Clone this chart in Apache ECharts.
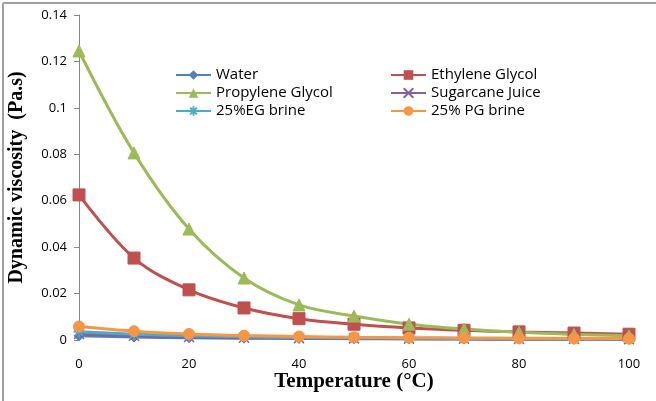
<!DOCTYPE html>
<html>
<head>
<meta charset="utf-8">
<script src="https://cdn.jsdelivr.net/npm/echarts@6/dist/echarts.min.js"></script>
<style>
  html, body { margin: 0; padding: 0; background: #fff; }
  #chart { width: 656px; height: 401px; }
</style>
</head>
<body>
<div id="chart"></div>
<script>
// Temperature (°C)
const temperatures = [0, 10, 20, 30, 40, 50, 60, 70, 80, 90, 100];

// Dynamic viscosity (Pa.s)
const water          = [0.0018, 0.0013, 0.0010, 0.0008, 0.00065, 0.00055, 0.00047, 0.0004, 0.00035, 0.00031, 0.00028];
const ethyleneGlycol = [0.0625, 0.0353, 0.0216, 0.0138, 0.0092, 0.0068, 0.0052, 0.0042, 0.0035, 0.0030, 0.0025];
const propyleneGlycol= [0.1245, 0.0806, 0.0478, 0.0267, 0.0151, 0.0103, 0.0068, 0.0047, 0.0033, 0.0024, 0.0018];
const sugarcaneJuice = [0.0026, 0.0018, 0.0013, 0.0010, 0.0008, 0.0007, 0.0006, 0.0005, 0.00045, 0.0004, 0.00035];
const egBrine25      = [0.0036, 0.0025, 0.0018, 0.0014, 0.0011, 0.0009, 0.0008, 0.0007, 0.0006, 0.00055, 0.0005];
const pgBrine25      = [0.0058, 0.0038, 0.0026, 0.0019, 0.0015, 0.0012, 0.0010, 0.0009, 0.0008, 0.0007, 0.0006];

const starPath = 'path://M0,-10L0,10M-10,0L10,0M-7,-7L7,7M-7,7L7,-7';
const crossPath = 'path://M-7,-7L7,7M-7,7L7,-7';

function pairs(arr) { return temperatures.map((t, i) => [t, arr[i]]); }

function line(name, data, color, symbol, size, extra) {
  return Object.assign({
    name: name,
    type: 'line',
    smooth: 0.35,
    data: pairs(data),
    symbol: symbol,
    symbolSize: size,
    showSymbol: true,
    lineStyle: { color: color, width: 3 },
    itemStyle: { color: color, borderColor: color },
    emphasis: { disabled: true }
  }, extra || {});
}

const series = [
  line('Water', water, '#4F81BD', 'diamond', 10),
  line('Ethylene Glycol', ethyleneGlycol, '#C0504D', 'rect', 12),
  line('Propylene Glycol', propyleneGlycol, '#9BBB59', 'triangle', 12),
  line('Sugarcane Juice', sugarcaneJuice, '#8064A2', crossPath, 10,
       { itemStyle: { color: 'none', borderColor: '#8064A2', borderWidth: 1.5 } }),
  line('25%EG brine', egBrine25, '#4BACC6', starPath, 11,
       { itemStyle: { color: 'none', borderColor: '#4BACC6', borderWidth: 1.5 } }),
  line('25% PG brine', pgBrine25, '#F79646', 'circle', 11)
];

const sansFont = 'Open Sans, Liberation Sans, sans-serif';
const serifFont = 'Liberation Serif, Times New Roman, serif';
const legendFont = { fontFamily: sansFont, fontSize: 15, color: '#000', lineHeight: 16 };

const chart = echarts.init(document.getElementById('chart'), null, { renderer: 'canvas' });
chart.setOption({
  animation: false,
  backgroundColor: '#fff',
  grid: { left: 79, right: 27, top: 15, bottom: 61, outerBoundsMode: 'none', containLabel: false },
  xAxis: {
    type: 'value',
    min: 0, max: 100, interval: 20,
    axisLine: { show: false },
    axisTick: { show: false },
    splitLine: { show: false },
    axisLabel: { color: '#000', fontSize: 13, margin: 18, fontFamily: sansFont },
    name: 'Temperature (\u00B0C)',
    nameLocation: 'middle',
    nameGap: 31,
    nameMoveOverlap: false,
    nameTextStyle: { fontFamily: serifFont, fontWeight: 'bold', fontSize: 21, color: '#000' }
  },
  yAxis: {
    type: 'value',
    min: 0, max: 0.14, interval: 0.02,
    axisLine: { show: true, lineStyle: { color: '#868686', width: 1 } },
    axisTick: { show: true, inside: false, length: 5, lineStyle: { color: '#868686' } },
    splitLine: { show: false },
    axisLabel: {
      color: '#000', fontSize: 13, margin: 12,
      fontFamily: sansFont,
      formatter: v => String(+v.toFixed(2))
    },
    name: 'Dynamic viscosity  (Pa.s)',
    nameLocation: 'middle',
    nameGap: 52,
    nameMoveOverlap: false,
    nameTextStyle: { fontFamily: serifFont, fontWeight: 'bold', fontSize: 20, color: '#000' }
  },
  legend: [
    {
      data: ['Water', 'Propylene Glycol', '25%EG brine'],
      orient: 'vertical', left: 170, top: 62, itemGap: 2,
      itemWidth: 35, itemHeight: 12, textStyle: legendFont, selectedMode: false
    },
    {
      data: ['Ethylene Glycol', 'Sugarcane Juice', '25% PG brine'],
      orient: 'vertical', left: 385, top: 62, itemGap: 2,
      itemWidth: 35, itemHeight: 12, textStyle: legendFont, selectedMode: false
    }
  ],
  graphic: [
    { type: 'line', shape: { x1: 3, y1: 3, x2: 656, y2: 3 }, style: { stroke: '#a0a0a0', lineWidth: 2 } },
    { type: 'line', shape: { x1: 3, y1: 3, x2: 3, y2: 401 }, style: { stroke: '#a0a0a0', lineWidth: 2 } }
  ],
  series: series
});
</script>
</body>
</html>
